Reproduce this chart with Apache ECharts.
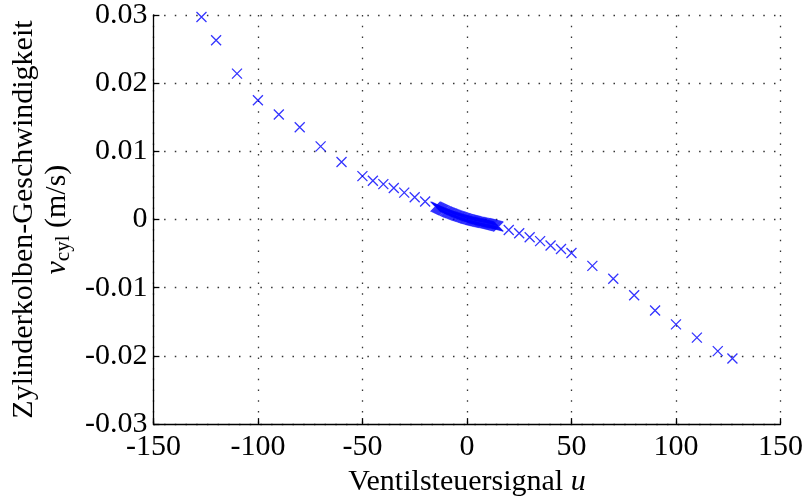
<!DOCTYPE html>
<html>
<head>
<meta charset="utf-8">
<script src="https://cdn.jsdelivr.net/npm/echarts@6/dist/echarts.min.js"></script>
<style>
  html, body { margin: 0; padding: 0; background: #fff; }
  #chart { width: 806px; height: 502px; }
</style>
</head>
<body>
<div id="chart"></div>
<script>
// Valve control signal u (steps) and measured cylinder piston speed (m/s)
const uValues = [
  -127, -120, -110, -100, -90, -80, -70, -60, -50, -45, -40, -35, -30, -25, -20,
  -15, -14.5, -14, -13.5, -13, -12.5, -12, -11.5, -11, -10.5,
  -10, -9.5, -9, -8.5, -8, -7.5, -7, -6.5, -6, -5.5,
  -5, -4.5, -4, -3.5, -3, -2.5, -2, -1.5, -1, -0.5,
  0, 0.5, 1, 1.5, 2, 2.5, 3, 3.5, 4, 4.5,
  5, 5.5, 6, 6.5, 7, 7.5, 8, 8.5, 9, 9.5,
  10, 10.5, 11, 11.5, 12, 12.5, 13, 13.5, 14, 14.5, 15,
  20, 25, 30, 35, 40, 45, 50, 60, 70, 80, 90, 100, 110, 120, 127
];
const vValues = [
  0.0297, 0.0263, 0.0214, 0.0175, 0.0154, 0.01354, 0.01073, 0.00845, 0.00637, 0.0057, 0.0052, 0.00462, 0.00395, 0.00327, 0.00264,
  0.00190, 0.00183, 0.00176, 0.00169, 0.00162, 0.00155, 0.00148, 0.00141, 0.00134, 0.00127,
  0.00120, 0.00114, 0.00108, 0.00102, 0.00096, 0.00090, 0.00084, 0.00078, 0.00072, 0.00066,
  0.00060, 0.00055, 0.00050, 0.00045, 0.00040, 0.00035, 0.00030, 0.00025, 0.00020, 0.00015,
  0.00010, 0.00006, 0.00002, -0.00002, -0.00006, -0.00010, -0.00014, -0.00018, -0.00022, -0.00026,
  -0.00030, -0.00034, -0.00037, -0.00040, -0.00043, -0.00046, -0.00049, -0.00052, -0.00055, -0.00058,
  -0.00061, -0.00065, -0.00069, -0.00073, -0.00077, -0.00081, -0.00085, -0.00089, -0.00093, -0.00097, -0.00101,
  -0.00153, -0.0020, -0.00259, -0.00317, -0.0038, -0.00433, -0.00491, -0.0068, -0.00869, -0.0111, -0.01334, -0.01537, -0.01732, -0.0193, -0.02037
];
const xTicks = { min: -150, max: 150, step: 50 };
const yTicks = { min: -0.03, max: 0.03, step: 0.01 };

const FONT = 'Liberation Serif';
const points = uValues.map((u, i) => [u, vValues[i]]);

// plain hyphen-minus for negative tick values
const fmtX = v => String(Math.round(v)).replace('\u2212', '-');
const fmtY = v => {
  const r = Math.round(v * 100) / 100;
  return (r === 0 ? '0' : r.toFixed(2)).replace('\u2212', '-');
};

const gridLine = { show: true, lineStyle: { color: '#333', width: 1.3, type: [1.5, 9.2] } };

const chart = echarts.init(document.getElementById('chart'), null, { renderer: 'canvas' });
chart.setOption({
  animation: false,
  backgroundColor: '#fff',
  grid: { left: 153, right: 22, top: 13, bottom: 75, containLabel: false },
  xAxis: {
    type: 'value',
    min: xTicks.min, max: xTicks.max, interval: xTicks.step,
    name: '{a|Ventilsteuersignal }{i|u}',
    nameLocation: 'middle',
    nameGap: 40,
    nameTextStyle: {
      fontFamily: FONT, fontSize: 30, color: '#000',
      rich: {
        a: { fontFamily: FONT, fontSize: 30, color: '#000' },
        i: { fontFamily: FONT, fontSize: 30, fontStyle: 'italic', color: '#000' }
      }
    },
    axisLine: { onZero: false, lineStyle: { color: '#000', width: 1.3 } },
    axisTick: { inside: true, length: 6, lineStyle: { color: '#000', width: 1.3 } },
    axisLabel: { fontFamily: FONT, fontSize: 30, color: '#000', margin: 8, formatter: fmtX },
    splitLine: gridLine
  },
  yAxis: {
    type: 'value',
    min: yTicks.min, max: yTicks.max, interval: yTicks.step,
    name: '{a|Zylinderkolben-Geschwindigkeit}\n{v|v}{s|cyl}{a| (m/s)}',
    nameLocation: 'middle',
    nameGap: 72,
    nameTextStyle: {
      fontFamily: FONT, fontSize: 30, color: '#000', lineHeight: 33, align: 'center',
      rich: {
        a: { fontFamily: FONT, fontSize: 30, lineHeight: 33, color: '#000', align: 'center' },
        v: { fontFamily: FONT, fontSize: 30, lineHeight: 33, fontStyle: 'italic', color: '#000', align: 'center' },
        s: { fontFamily: FONT, fontSize: 21, lineHeight: 20, verticalAlign: 'bottom', color: '#000', align: 'center' }
      }
    },
    axisLine: { onZero: false, lineStyle: { color: '#000', width: 1.3 } },
    axisTick: { inside: true, length: 6, lineStyle: { color: '#000', width: 1.3 } },
    axisLabel: { fontFamily: FONT, fontSize: 30, color: '#000', margin: 6, formatter: fmtY },
    splitLine: gridLine
  },
  series: [{
    type: 'scatter',
    data: points,
    symbol: 'path://M0,0L10,10M10,0L0,10',
    symbolSize: 10,
    itemStyle: { color: 'rgba(0,0,0,0)', borderColor: '#0000ff', borderWidth: 1.3 }
  }]
});
</script>
</body>
</html>
